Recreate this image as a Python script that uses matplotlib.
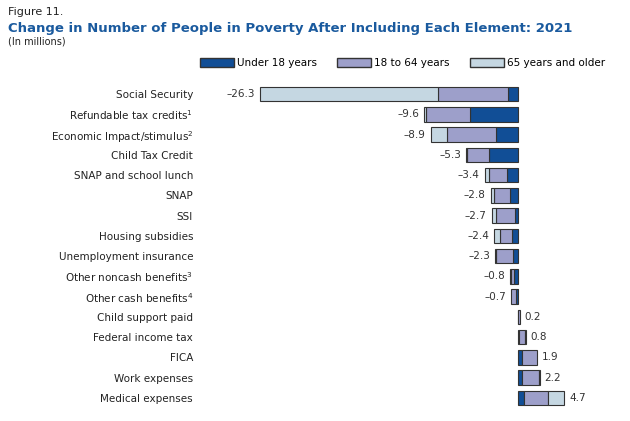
import matplotlib.pyplot as plt
from matplotlib.patches import Patch

categories = ["Social Security", "Refundable tax credits$^1$", "Economic Impact/stimulus$^2$",
              "Child Tax Credit", "SNAP and school lunch", "SNAP", "SSI", "Housing subsidies",
              "Unemployment insurance", "Other noncash benefits$^3$", "Other cash benefits$^4$",
              "Child support paid", "Federal income tax", "FICA", "Work expenses", "Medical expenses"]
totals = [-26.3, -9.6, -8.9, -5.3, -3.4, -2.8, -2.7, -2.4, -2.3, -0.8, -0.7, 0.2, 0.8, 1.9, 2.2, 4.7]
under18 = [1.0, 4.9, 2.2, 3.0, 1.1, 0.8, 0.3, 0.6, 0.5, 0.4, 0.2, 0.05, 0.1, 0.4, 0.4, 0.6]
adults = [7.2, 4.5, 5.0, 2.2, 1.9, 1.6, 1.9, 1.2, 1.7, 0.3, 0.5, 0.15, 0.6, 1.5, 1.7, 2.5]
seniors = [18.1, 0.2, 1.7, 0.1, 0.4, 0.4, 0.5, 0.6, 0.1, 0.1, 0.0, 0.0, 0.1, 0.0, 0.1, 1.6]

c1, c2, c3 = "#114e96", "#9d9fca", "#c5d7e2"
fig = plt.figure(figsize=(6.3, 4.21), dpi=100)
ax = fig.add_axes([200 / 630, 1 - 408 / 421, 400 / 630, 324 / 421])
ys = list(range(len(categories)))
for i, t in enumerate(totals):
    s = -1 if t < 0 else 1
    left = 0
    for v, c in ((under18[i], c1), (adults[i], c2), (seniors[i], c3)):
        if v > 0:
            ax.barh(i, s * v, left=left, height=0.72, color=c, edgecolor="#333333", linewidth=0.8)
            left += s * v
    ax.text(t + (-0.5 if t < 0 else 0.5), i, f"{t:.1f}".replace("-", "–"),
            ha="right" if t < 0 else "left", va="center", fontsize=7.5, color="#333333")
ax.set_ylim(len(categories) - 0.5, -0.5)
ax.set_xlim(-318 / 9.81, 82 / 9.81)
ax.set_yticks(ys)
ax.set_yticklabels(categories, fontsize=7.5, color="#222222")
ax.tick_params(axis="y", length=0, pad=5)
ax.set_xticks([])
for sp in ax.spines.values():
    sp.set_visible(False)

fig.text(0.012, 0.965, "Figure 11.", fontsize=8, color="#222222")
fig.text(0.012, 0.925, "Change in Number of People in Poverty After Including Each Element: 2021",
         fontsize=9.5, fontweight="bold", color="#1a5a9e")
fig.text(0.012, 0.895, "(In millions)", fontsize=7, color="#222222")
handles = [Patch(facecolor=c, edgecolor="#333333", label=l) for c, l in
           ((c1, "Under 18 years"), (c2, "18 to 64 years"), (c3, "65 years and older"))]
fig.legend(handles=handles, loc="upper right", bbox_to_anchor=(0.975, 0.885), ncol=3, frameon=False,
           fontsize=7.5, handlelength=3.2, handleheight=0.9, columnspacing=2.0, handletextpad=0.3)
fig.savefig("out.png", dpi=100)
